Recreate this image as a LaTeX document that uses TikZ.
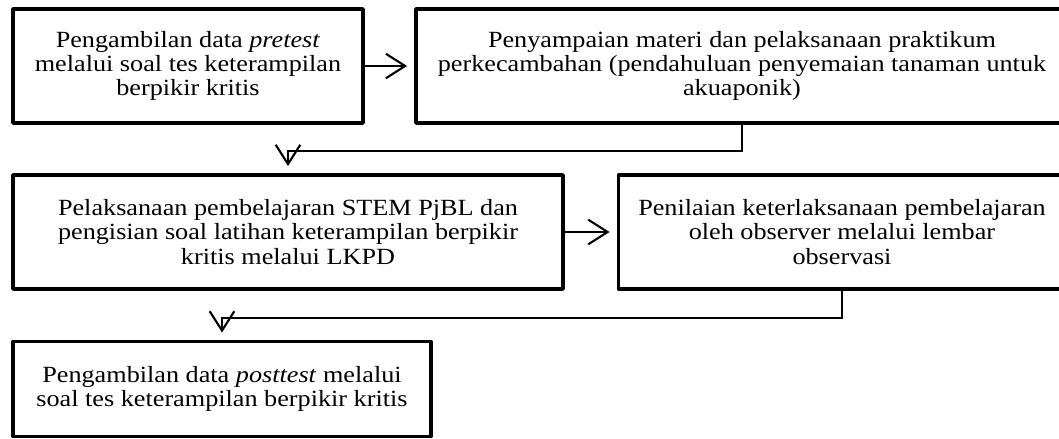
\documentclass[tikz,border=0pt]{standalone}
\usepackage{fontspec}
\setmainfont{Liberation Serif}[FakeStretch=1.13]
\usetikzlibrary{arrows.meta}

\begin{document}
\begin{tikzpicture}[x=0.02cm,y=-0.02cm,
        kotak/.style={draw,line width=2.2pt,line join=round,rectangle,align=center,inner sep=0pt,
            font=\fontsize{13.2}{13.8}\selectfont},
        panah/.style={line width=1.2pt,-{Straight Barb[length=11pt,width=14pt]},shorten >=4pt}]
        \useasboundingbox (0,0) rectangle (1059,439);
        % baris atas
        \node[kotak,minimum width=7cm,minimum height=2.28cm] (a) at (188,66)
            {Pengambilan data \textit{pretest}\\melalui soal tes keterampilan\\berpikir kritis};
        \node[kotak,minimum width=13.04cm,minimum height=2.28cm] (b) at (742,66)
            {Penyampaian materi dan pelaksanaan praktikum\\perkecambahan (pendahuluan penyemaian tanaman untuk\\akuaponik)};
        % baris tengah
        \node[kotak,minimum width=11cm,minimum height=2.28cm] (c) at (288,232)
            {Pelaksanaan pembelajaran STEM PjBL dan\\pengisian soal latihan keterampilan berpikir\\kritis melalui LKPD};
        \node[kotak,minimum width=8.94cm,minimum height=2.28cm] (d) at (842,232)
            {Penilaian keterlaksanaan pembelajaran\\oleh observer melalui lembar\\observasi};
        % baris bawah
        \node[kotak,minimum width=8.36cm,minimum height=1.9cm] (e) at (222,389)
            {Pengambilan data \textit{posttest} melalui\\soal tes keterampilan berpikir kritis};
        % panah
        \draw[panah] (a.east) -- (b.west);
        \draw[panah] (b.south) -- ++(0,26) -| (c.north);
        \draw[panah] (c.east) -- (d.west);
        \draw[panah] (d.south) -- ++(0,27) -| (e.north);
    \end{tikzpicture}
\end{document}
